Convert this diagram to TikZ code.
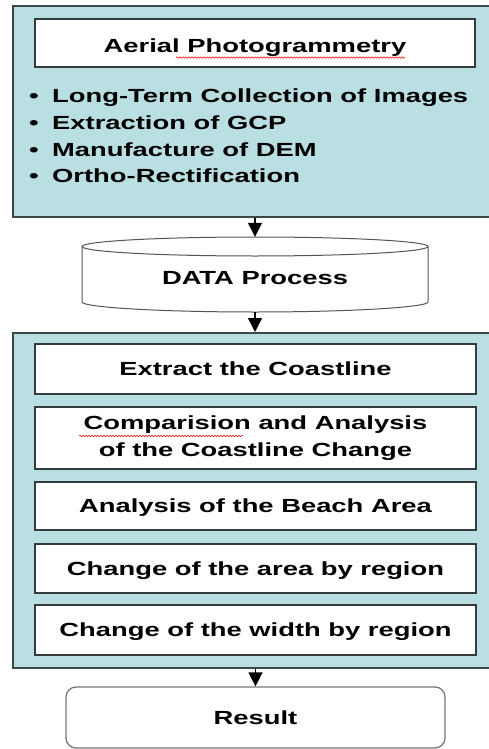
\documentclass[tikz,border=0pt]{standalone}
\usepackage{fontspec}
\setmainfont{Liberation Sans}[FakeStretch=1.44]
\usetikzlibrary{arrows.meta,decorations.pathmorphing}
\definecolor{panelfill}{HTML}{BADFE2}
\definecolor{panelline}{HTML}{3C4747}
\definecolor{boxline}{HTML}{333B3B}
\definecolor{cylline}{HTML}{555555}
\definecolor{resline}{HTML}{777777}
\begin{document}
\begin{tikzpicture}[x=1pt,y=-1pt,
  every node/.style={inner sep=0pt, font=\fontsize{19}{26.4}\selectfont\bfseries},
  panel/.style={draw=panelline, fill=panelfill, line width=1.6pt, anchor=north west, minimum width=488pt},
  boxbase/.style={draw=boxline, fill=white, line width=1.3pt, minimum width=441pt, align=center},
  stepbox/.style={boxbase, text height=13.6pt, text depth=0pt},
  bullet/.style={anchor=base},
  item/.style={anchor=base west},
  arr/.style={line width=1.5pt, -{Triangle[width=14pt,length=14pt]}},
  spell/.style={draw=red, line width=0.5pt, decorate, decoration={snake, segment length=3pt, amplitude=0.8pt}},
  cyl/.style={draw=cylline, line width=1pt, fill=white}]
\useasboundingbox (0,0) rectangle (489,749);
\clip (0,0) rectangle (489,749);

% ---- top panel
\node[panel, minimum height=211pt] (p1) at (12,5) {};
\node[stepbox, minimum width=440pt, minimum height=48pt, text height=19.6pt] (title) at (255,43) {Aerial Photogrammetry};
\draw[spell] (176,57.5) -- (405,57.5);

\node[bullet] (b1) at (34,102.5) {•};
\node[item] (i1) at (52,102.5) {Long-Term Collection of Images};
\node[bullet] (b2) at (34,129) {•};
\node[item] (i2) at (52,129) {Extraction of GCP};
\node[bullet] (b3) at (34,156) {•};
\node[item] (i3) at (52,156) {Manufacture of DEM};
\node[bullet] (b4) at (34,182.5) {•};
\node[item] (i4) at (52,182.5) {Ortho-Rectification};

% ---- data process cylinder
\node[minimum width=346pt, minimum height=75pt] (data) at (255,274.5) {};
\fill[white] (82,246.5) -- (82,302) .. controls (82,307.25) and (159.45,312) .. (255,312)
   .. controls (350.55,312) and (428,307.25) .. (428,302) -- (428,246.5) -- cycle;
\draw[cyl, fill=none] (82,246.5) -- (82,302) .. controls (82,307.25) and (159.45,312) .. (255,312)
   .. controls (350.55,312) and (428,307.25) .. (428,302) -- (428,246.5);
\draw[cyl] (255,246.5) ellipse [x radius=173, y radius=9.5];
\node[anchor=base] (datatext) at (255,284) {DATA Process};

% ---- second panel
\node[panel, minimum height=335pt] (p2) at (12,332) {};
\node[stepbox, minimum height=50pt] (s1) at (255.5,369) {Extract the Coastline};
\node[boxbase, minimum height=62pt] (s2) at (255.5,438)
   {Comparision and Analysis\\ of the Coastline Change};
\draw[spell] (79,436) -- (243,436);
\node[stepbox, minimum height=48pt] (s3) at (255.5,506) {Analysis of the Beach Area};
\node[stepbox, minimum height=49pt] (s4) at (255.5,568.5) {Change of the area by region};
\node[stepbox, minimum height=50pt] (s5) at (255.5,630) {Change of the width by region};

% ---- result
\node[draw=resline, line width=1.3pt, fill=white, rounded corners=10pt, minimum width=379pt, minimum height=61pt, text height=13.6pt, text depth=0pt] (res) at (255.5,717.5) {Result};

% ---- connectors
\draw[arr] (data.north |- p1.south) -- (data.north);
\draw[arr] (data.south) -- (data.south |- p2.north);
\draw[arr] (res.north |- p2.south) -- (res.north);
\end{tikzpicture}
\end{document}
